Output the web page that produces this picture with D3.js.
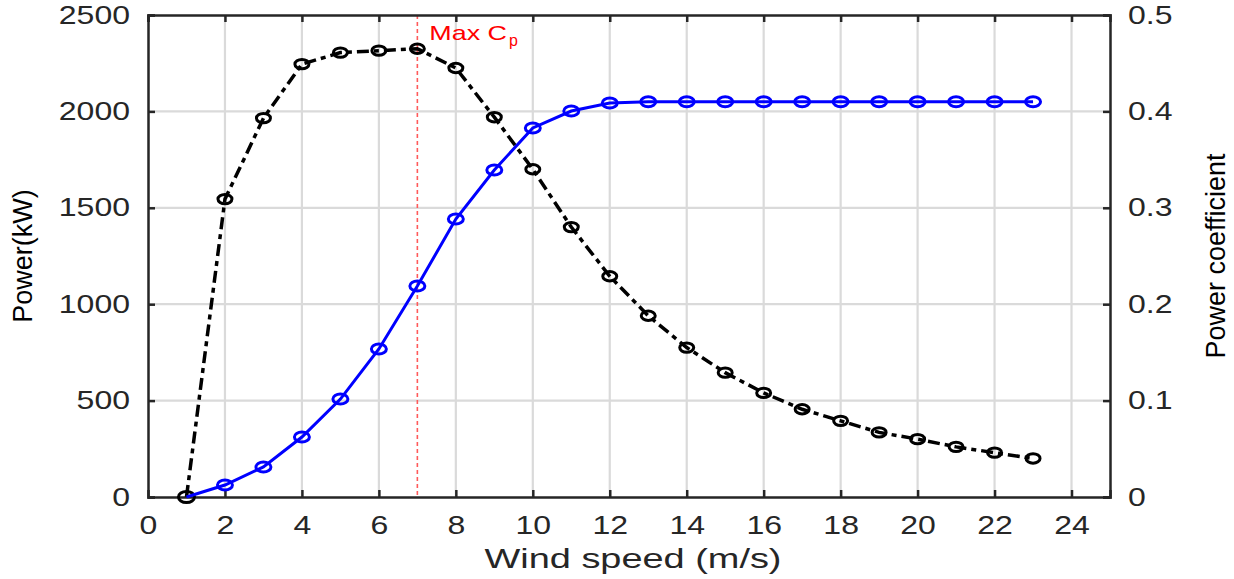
<!DOCTYPE html>
<html><head><meta charset="utf-8">
<script src="https://cdn.jsdelivr.net/npm/d3@7"></script>
<style>body{margin:0;background:#fff}svg{display:block}text{font-family:"Liberation Sans",Arial,sans-serif}</style>
</head><body><svg id="c" width="1234" height="579"></svg>
<script>
const windSpeed = [1,2,3,4,5,6,7,8,9,10,11,12,13,14,15,16,17,18,19,20,21,22,23];
const powerKW = [0,62,156,311,508,768,1094,1442,1696,1914,2002,2044,2050,2050,2050,2050,2050,2050,2050,2050,2050,2050,2050];
const powerCoef = [0,0.309,0.393,0.449,0.461,0.463,0.465,0.445,0.394,0.340,0.280,0.229,0.188,0.155,0.129,0.108,0.091,0.079,0.067,0.060,0.052,0.046,0.040];
const xTicks = [0,2,4,6,8,10,12,14,16,18,20,22,24];
const yLeftTicks = [0,500,1000,1500,2000,2500];
const yRightTicks = [0,0.1,0.2,0.3,0.4,0.5];
const maxCpSpeed = 7;

const L=148,R=1110,T=15,B=497;
const svg=d3.select("#c");
const x=d3.scaleLinear().domain([0,25]).range([L,R]);
const yL=d3.scaleLinear().domain([0,2500]).range([B,T]);
const yR=d3.scaleLinear().domain([0,0.5]).range([B,T]);
const txt="#262626";
function stretch(sel,k){sel.each(function(){const w=this.getComputedTextLength();d3.select(this).attr("textLength",w*k).attr("lengthAdjust","spacingAndGlyphs");});}

// grid
const g=svg.append("g");
g.selectAll(".vx").data(xTicks.filter(d=>d>0)).join("line")
 .attr("x1",d=>x(d)).attr("x2",d=>x(d)).attr("y1",T).attr("y2",B)
 .attr("stroke","#dadada").attr("stroke-width",2.2);
g.selectAll(".hy").data(yLeftTicks.filter(d=>d>0&&d<2500)).join("line")
 .attr("x1",L).attr("x2",R).attr("y1",d=>yL(d)).attr("y2",d=>yL(d))
 .attr("stroke","#dadada").attr("stroke-width",2.2);

// red max Cp line
svg.append("line").attr("x1",x(maxCpSpeed)).attr("x2",x(maxCpSpeed)).attr("y1",T).attr("y2",B)
 .attr("stroke","#ff5a5a").attr("stroke-width",1.6).attr("stroke-dasharray","4,3");
const lab=svg.append("text").attr("x",x(maxCpSpeed)+12).attr("y",40).attr("fill","#ff0000").attr("font-size",21);
const t1=lab.append("tspan").text("Max C");
lab.append("tspan").attr("font-size",16).attr("dy",6).attr("dx",2).text("p");

// axes
const tickLen=7;
const axB=svg.append("g").attr("transform",`translate(0,${B})`).call(d3.axisBottom(x).tickValues(xTicks).tickSize(-tickLen).tickPadding(19));
const axT=svg.append("g").attr("transform",`translate(0,${T})`).call(d3.axisTop(x).tickValues(xTicks).tickSize(-tickLen).tickFormat(""));
const axL=svg.append("g").attr("transform",`translate(${L},0)`).call(d3.axisLeft(yL).tickValues(yLeftTicks).tickSize(-tickLen).tickPadding(18).tickFormat(d3.format("d")));
const axR=svg.append("g").attr("transform",`translate(${R},0)`).call(d3.axisRight(yR).tickValues(yRightTicks).tickSize(-tickLen).tickPadding(18).tickFormat(d=>d===0?"0":d3.format(".1f")(d)));
[axB,axT,axL,axR].forEach(a=>{
  a.select(".domain").attr("stroke","#262626").attr("stroke-width",2.5);
  a.selectAll(".tick line").attr("stroke","#262626").attr("stroke-width",2.5);
  a.selectAll("text").attr("fill",txt).attr("font-size",25).attr("font-family","Liberation Sans, Arial, sans-serif");
});
axB.selectAll(".tick").filter(d=>d===0).select("line").remove();
axB.selectAll("text").attr("dy","0.71em");
[axB,axL,axR].forEach(a=>stretch(a.selectAll("text"),1.28));

// labels
const xl=svg.append("text").attr("x",633).attr("y",568).attr("text-anchor","middle").attr("fill",txt).attr("font-size",27).text("Wind speed (m/s)");
xl.attr("textLength",297).attr("lengthAdjust","spacingAndGlyphs");
svg.append("text").attr("transform",`translate(32,256) rotate(-90)`).attr("text-anchor","middle").attr("fill","#000").attr("font-size",27).text("Power(kW)");
svg.append("text").attr("transform",`translate(1225,256) rotate(-90)`).attr("text-anchor","middle").attr("fill","#000").attr("font-size",27).text("Power coefficient");

// black Cp line
const lineCp=d3.line().x((d,i)=>x(windSpeed[i])).y(d=>yR(d));
svg.append("path").datum(powerCoef).attr("d",lineCp).attr("fill","none").attr("stroke","#000").attr("stroke-width",3.5).attr("stroke-dasharray","12,5,5,5");
svg.selectAll(".cp").data(powerCoef).join("ellipse").attr("cx",(d,i)=>x(windSpeed[i])).attr("cy",d=>yR(d))
 .attr("rx",(d,i)=>i===0?8:7).attr("ry",(d,i)=>i===0?5.5:4.7).attr("fill","none").attr("stroke","#000").attr("stroke-width",3);

// blue power line
const lineP=d3.line().x((d,i)=>x(windSpeed[i])).y(d=>yL(d));
svg.append("path").datum(powerKW).attr("d",lineP).attr("fill","none").attr("stroke","#0000ff").attr("stroke-width",3);
svg.selectAll(".pw").data(powerKW).join("ellipse").attr("cx",(d,i)=>x(windSpeed[i])).attr("cy",d=>yL(d))
 .attr("rx",7.5).attr("ry",5).attr("fill","none").attr("stroke","#0000ff").attr("stroke-width",3)
 .attr("display",(d,i)=>i===0?"none":null);
stretch(t1,1.28);
</script></body></html>
